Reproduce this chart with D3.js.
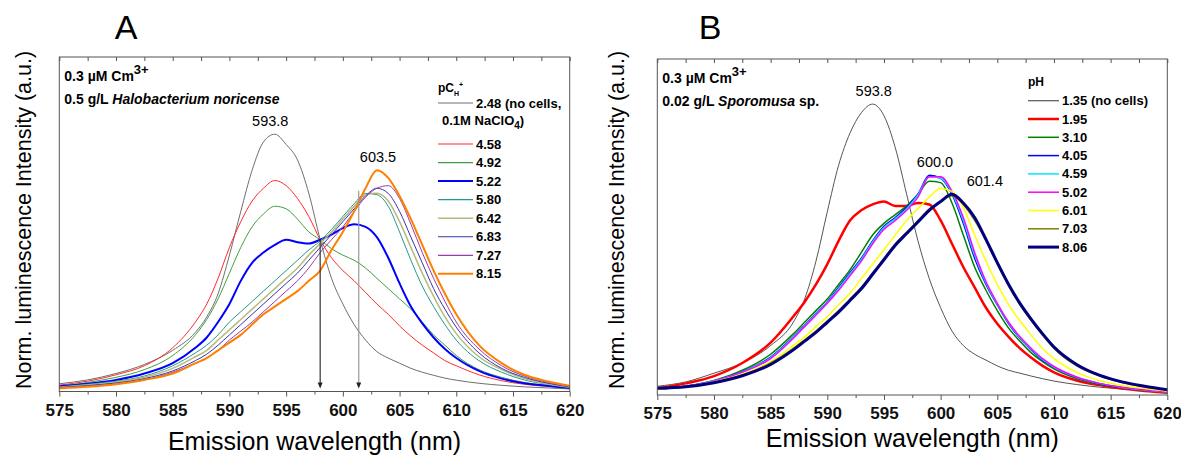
<!DOCTYPE html>
<html>
<head>
<meta charset="utf-8">
<script src="https://cdn.jsdelivr.net/npm/d3@7"></script>
<style>
  body { margin: 0; background: #fff; }
  text { font-family: "Liberation Sans", Arial, sans-serif; }
</style>
</head>
<body>
<svg id="chart" width="1181" height="456"></svg>
<script>
// shared wavelength grid (nm)
var wl = [575,577.5,580,582.5,585,587,588,589,590,591,592,593,594,595,596,597,598,599,600,601,602,603,604,605,606,607,608,609,610,612,614,616,618,620];

// ---- panel A : Halobacterium noricense, pCH+ series
var aLabels = ["2.48 (no cells,", "4.58", "4.92", "5.22", "5.80", "6.42", "6.83", "7.27", "8.15"];
var aColors = ["#6e6e6e", "#ff2a2a", "#3f9f3f", "#0000ff", "#22998c", "#b9b97a", "#3535b0", "#9a3cab", "#ff7f00"];
var aWidths = [1, 1, 1, 2, 1, 1.5, 1, 1, 2];
var aValues = [
  [.03,.045,.07,.105,.16,.23,.29,.38,.53,.70,.86,.97,1.0,.96,.90,.77,.59,.44,.34,.26,.20,.155,.13,.11,.09,.075,.063,.052,.044,.032,.024,.018,.014,.01],
  [.025,.04,.065,.10,.17,.27,.34,.44,.56,.66,.74,.79,.82,.80,.75,.68,.59,.52,.47,.43,.385,.34,.30,.255,.215,.18,.15,.12,.10,.065,.042,.028,.02,.015],
  [.02,.035,.055,.085,.14,.22,.28,.36,.46,.56,.64,.69,.72,.71,.67,.62,.59,.555,.53,.51,.48,.44,.40,.36,.32,.27,.22,.18,.14,.085,.055,.035,.024,.016],
  [.02,.03,.045,.07,.11,.17,.21,.27,.34,.43,.50,.54,.57,.59,.58,.575,.59,.61,.635,.65,.64,.60,.52,.42,.33,.265,.21,.165,.13,.08,.05,.032,.022,.014],
  [.018,.028,.04,.06,.10,.15,.18,.22,.27,.31,.35,.39,.43,.47,.51,.55,.585,.63,.68,.73,.77,.765,.72,.62,.51,.41,.33,.26,.20,.12,.075,.045,.028,.016],
  [.016,.025,.036,.055,.09,.135,.16,.20,.24,.28,.32,.36,.40,.44,.48,.53,.575,.62,.67,.72,.765,.77,.74,.66,.56,.46,.37,.29,.225,.135,.085,.05,.03,.017],
  [.015,.023,.033,.05,.08,.12,.145,.18,.22,.26,.30,.34,.38,.42,.46,.51,.56,.61,.66,.71,.76,.79,.77,.70,.60,.50,.40,.32,.25,.15,.09,.055,.033,.018],
  [.014,.021,.03,.046,.075,.11,.13,.16,.20,.235,.27,.31,.35,.39,.43,.48,.54,.59,.64,.70,.755,.79,.80,.75,.65,.54,.44,.35,.27,.165,.10,.06,.036,.02],
  [.012,.018,.028,.045,.07,.11,.13,.16,.19,.22,.26,.30,.33,.36,.39,.43,.47,.55,.62,.70,.79,.86,.83,.76,.67,.57,.47,.38,.30,.18,.11,.065,.04,.022]
];
var aPeakText = ["593.8", "603.5"];
var aPeakX = [593.6, 603.1];
var aPeakY = [1.0, 0.86];
var aArrowX = [598, 601.4];
var aArrowFrom = [0.59, 0.78];

// ---- panel B : Sporomusa sp., pH series
var bLabels = ["1.35 (no cells)", "1.95", "3.10", "4.05", "4.59", "5.02", "6.01", "7.03", "8.06"];
var bColors = ["#555555", "#ff0000", "#008000", "#0000ff", "#00e5ff", "#ff00ff", "#ffff00", "#808000", "#000080"];
var bWidths = [1, 2.5, 1.5, 1.5, 1.5, 1.5, 1.5, 1.5, 3];
var bValues = [
  [.03,.045,.075,.11,.17,.25,.33,.46,.63,.79,.90,.97,1.0,.96,.85,.69,.53,.40,.30,.22,.17,.14,.12,.10,.085,.075,.065,.056,.048,.036,.027,.021,.017,.014],
  [.023,.04,.065,.11,.18,.27,.32,.38,.45,.53,.60,.635,.655,.665,.65,.65,.66,.655,.60,.52,.44,.37,.30,.245,.20,.16,.128,.10,.078,.05,.034,.022,.014,.008],
  [.02,.03,.05,.085,.14,.21,.25,.29,.33,.38,.43,.49,.55,.59,.62,.65,.69,.735,.73,.66,.55,.44,.36,.29,.23,.185,.145,.115,.09,.057,.037,.025,.016,.01],
  [.02,.03,.048,.08,.13,.20,.24,.28,.32,.37,.42,.47,.53,.58,.61,.645,.69,.755,.745,.69,.59,.47,.38,.31,.245,.195,.155,.12,.095,.06,.039,.026,.017,.01],
  [.02,.03,.048,.079,.128,.198,.238,.278,.318,.366,.416,.466,.526,.576,.606,.64,.688,.75,.745,.695,.60,.48,.385,.312,.247,.197,.157,.122,.096,.061,.04,.026,.017,.01],
  [.02,.03,.047,.078,.125,.195,.235,.275,.315,.36,.41,.46,.52,.57,.60,.635,.68,.75,.75,.70,.61,.49,.39,.315,.25,.20,.16,.125,.098,.062,.04,.027,.018,.011],
  [.02,.028,.045,.072,.115,.17,.20,.235,.27,.31,.35,.40,.45,.50,.55,.60,.64,.68,.71,.70,.645,.55,.46,.38,.31,.255,.205,.16,.125,.078,.05,.033,.022,.013],
  [.022,.028,.043,.068,.11,.16,.19,.22,.255,.29,.33,.37,.42,.47,.52,.56,.60,.64,.665,.685,.655,.60,.53,.45,.375,.31,.255,.205,.16,.10,.066,.043,.028,.018],
  [.023,.028,.042,.066,.105,.155,.185,.215,.25,.285,.325,.365,.415,.465,.515,.555,.595,.635,.665,.69,.66,.61,.535,.455,.38,.315,.26,.21,.165,.105,.068,.045,.03,.018]
];
var bPeakText = ["593.8", "600.0", "601.4"];
var bPeakX = [594.1, 599.5, 603.9];
var bPeakY = [1.0, 0.755, 0.69];

var majorTicks = d3.range(575, 621, 5);
var allTicks = d3.range(575, 620.1, 2.5);

var svg = d3.select("#chart");

function drawPanel(p) {
  var g = svg.append("g");

  var x = d3.scaleLinear().domain([575, 620]).range([p.left, p.right]);
  var y = d3.scaleLinear().domain([0, p.ymax]).range([p.bottom, p.top]);

  // panel letter
  g.append("text")
    .attr("x", p.letterX).attr("y", 39)
    .attr("text-anchor", "middle")
    .style("font-size", "34px")
    .text(p.letter);

  // curves
  var line = d3.line()
    .x(function(d, i){ return x(wl[i]); })
    .y(function(d){ return y(d); })
    .curve(d3.curveMonotoneX);

  p.values.forEach(function(v, i){
    g.append("path")
      .attr("d", line(v))
      .attr("fill", "none")
      .attr("stroke", p.colors[i])
      .attr("stroke-width", p.widths[i])
      .attr("stroke-linejoin", "round");
  });

  // arrows
  if (p.arrowX) {
    var arrowCol = ["#333", "#999"];
    p.arrowX.forEach(function(ax, i){
      var px = x(ax);
      g.append("line")
        .attr("x1", px).attr("x2", px)
        .attr("y1", y(p.arrowFrom[i])).attr("y2", p.bottom - 8)
        .attr("stroke", arrowCol[i]).attr("stroke-width", 1.2);
      g.append("path")
        .attr("d", "M" + (px - 2.5) + "," + (p.bottom - 9) + "L" + (px + 2.5) + "," + (p.bottom - 9) + "L" + px + "," + (p.bottom - 3) + "Z")
        .attr("fill", "#222");
    });
  }

  // frame
  g.append("rect")
    .attr("x", p.left).attr("y", p.top)
    .attr("width", p.right - p.left).attr("height", p.bottom - p.top)
    .attr("fill", "none").attr("stroke", "#555").attr("stroke-width", 1);

  // bottom axis (outward ticks)
  var bx = g.append("g")
    .attr("transform", "translate(0," + p.bottom + ")")
    .call(d3.axisBottom(x).tickValues(majorTicks).tickSize(5).tickSizeOuter(0).tickPadding(7).tickFormat(d3.format("d")));
  bx.select(".domain").remove();
  bx.selectAll("text").style("font-size", "17px").style("font-weight", "bold").attr("fill", "#111");
  bx.selectAll("line").attr("stroke", "#555");

  var bm = g.append("g")
    .attr("transform", "translate(0," + p.bottom + ")")
    .call(d3.axisBottom(x).tickValues(allTicks.filter(function(t){ return t % 5 !== 0; })).tickSize(3).tickSizeOuter(0).tickFormat(""));
  bm.select(".domain").remove();
  bm.selectAll("line").attr("stroke", "#555");

  // top axis (inward ticks)
  var tx = g.append("g")
    .attr("transform", "translate(0," + p.top + ")")
    .call(d3.axisTop(x).tickValues(allTicks).tickSize(-4).tickSizeOuter(0).tickFormat(""));
  tx.select(".domain").remove();
  tx.selectAll("line").attr("stroke", "#555");

  // axis titles
  g.append("text")
    .attr("x", (p.left + p.right) / 2).attr("y", p.xTitleY)
    .attr("text-anchor", "middle")
    .style("font-size", "25px")
    .text("Emission wavelength (nm)");

  g.append("text")
    .attr("transform", "translate(" + p.yTitleX + "," + 220 + ") rotate(-90)")
    .attr("text-anchor", "middle")
    .style("font-size", "21.5px")
    .text("Norm. luminescence Intensity (a.u.)");

  // info text
  var t1 = g.append("text")
    .attr("x", p.left + 5).attr("y", p.top + 24)
    .style("font-size", "14px").style("font-weight", "bold");
  t1.append("tspan").text("0.3 \u00b5M Cm");
  t1.append("tspan").attr("dy", -7).style("font-size", "13px").text("3+");

  var t2 = g.append("text")
    .attr("x", p.left + 5).attr("y", p.top + 47)
    .style("font-size", "14px").style("font-weight", "bold");
  t2.append("tspan").text(p.info[0]);
  t2.append("tspan").style("font-style", "italic").text(p.info[1]);
  if (p.info[2]) t2.append("tspan").text(p.info[2]);

  // peak labels
  p.peakText.forEach(function(s, i){
    g.append("text")
      .attr("x", x(p.peakX[i])).attr("y", y(p.peakY[i]) - 8)
      .attr("text-anchor", "middle")
      .style("font-size", "14.5px")
      .text(s);
  });

  // legend
  var lg = g.append("g");
  var title = lg.append("text")
    .attr("x", p.leg.x1).attr("y", p.leg.titleY)
    .style("font-size", "12px").style("font-weight", "bold");
  p.leg.title(title);

  p.labels.forEach(function(lab, i){
    var ry = p.leg.rowY(i);
    lg.append("line")
      .attr("x1", p.leg.x1).attr("x2", p.leg.x2)
      .attr("y1", ry).attr("y2", ry)
      .attr("stroke", p.colors[i])
      .attr("stroke-width", Math.max(1.2, p.widths[i]));
    lg.append("text")
      .attr("x", p.leg.x2 + 3).attr("y", ry + 4.5)
      .style("font-size", "13px").style("font-weight", "bold")
      .text(lab);
  });
  if (p.leg.extra) p.leg.extra(lg);
}

drawPanel({
  letter: "A", letterX: 126,
  left: 59.3, right: 569.7, top: 57, bottom: 391.5, ymax: 1.30,
  xTitleY: 450, yTitleX: 31,
  values: aValues, colors: aColors, widths: aWidths, labels: aLabels,
  info: ["0.5 g/L ", "Halobacterium noricense"],
  peakText: aPeakText, peakX: aPeakX, peakY: aPeakY,
  arrowX: aArrowX, arrowFrom: aArrowFrom,
  leg: {
    x1: 438, x2: 473, titleY: 92,
    rowY: function(i){ return i === 0 ? 103 : 144 + (i - 1) * 18.55; },
    title: function(t){
      t.append("tspan").text("pC");
      t.append("tspan").attr("dy", 4).style("font-size", "7px").text("H");
      t.append("tspan").attr("dy", -9).style("font-size", "7px").text("+");
    },
    extra: function(lg){
      var t = lg.append("text")
        .attr("x", 442).attr("y", 125)
        .style("font-size", "13px").style("font-weight", "bold");
      t.append("tspan").text("0.1M NaClO");
      t.append("tspan").attr("dy", 4).style("font-size", "10px").text("4");
      t.append("tspan").attr("dy", -4).text(")");
    }
  }
});

drawPanel({
  letter: "B", letterX: 710,
  left: 657.3, right: 1167.3, top: 59, bottom: 395, ymax: 1.155,
  xTitleY: 447, yTitleX: 624,
  values: bValues, colors: bColors, widths: bWidths, labels: bLabels,
  info: ["0.02 g/L ", "Sporomusa", " sp."],
  peakText: bPeakText, peakX: bPeakX, peakY: bPeakY,
  leg: {
    x1: 1028, x2: 1059, titleY: 86,
    rowY: function(i){ return 100.7 + i * 18.3; },
    title: function(t){ t.text("pH"); }
  }
});
</script>
</body>
</html>
